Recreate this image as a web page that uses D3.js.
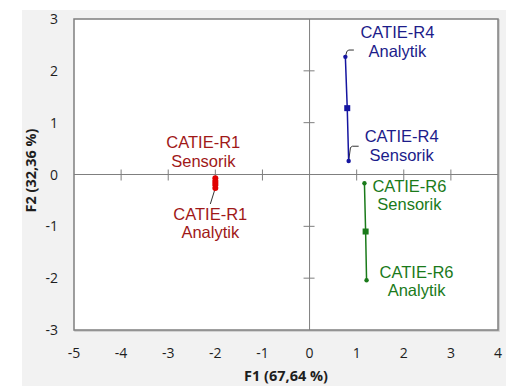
<!doctype html>
<html>
<head>
<meta charset="utf-8">
<style>
  body { margin: 0; background: white; }
  svg { display: block; }
  .tick-label { font-family: 'Open Sans', sans-serif; font-size: 14px; fill: #1e1e1e; }
  .axis-title { font-family: 'Open Sans', sans-serif; font-size: 14.5px; font-weight: bold; fill: #1e1e1e; }
  .pt-label { font-family: 'Liberation Sans', Arial, sans-serif; font-size: 16.5px; }
</style>
<script src="https://d3js.org/d3.v7.min.js"></script>
</head>
<body>
<svg width="513" height="386"></svg>
<script>
// values
var groups = ["CATIE-R1", "CATIE-R4", "CATIE-R6"];
var sensorikX = [-2.0, 0.83, 1.165];
var sensorikY = [-0.07, 0.26, -0.17];
var analytikX = [-2.0, 0.76, 1.21];
var analytikY = [-0.26, 2.27, -2.04];
var centerX = [-2.0, 0.80, 1.19];
var centerY = [-0.165, 1.28, -1.10];
var xTicks = [-5, -4, -3, -2, -1, 0, 1, 2, 3, 4];
var yTicks = [-3, -2, -1, 0, 1, 2, 3];

// styling / layout
var lineColor = ["#e00000", "#1515a0", "#1a7a1a"];
var textColor = ["#a01818", "#1c1c8a", "#1a7a1a"];
// label offsets (px) from the point: [dx, dy of first baseline]
var sensLabelOff = [[-12, -30], [53, -19], [45, 8.5]];
var anaLabelOff = [[-5, 32], [52, -18.5], [50, -2.5]];

var svg = d3.select("svg");
var margin = { left: 74, top: 19, right: 498, bottom: 330 };

svg.append("rect").attr("x", 22).attr("y", 10).attr("width", 484).attr("height", 376).attr("fill", "#f2f2f2");

var x = d3.scaleLinear().domain([-5, 4]).range([margin.left, margin.right]);
var y = d3.scaleLinear().domain([-3, 3]).range([margin.bottom, margin.top]);

// plot area
svg.append("rect").attr("x", margin.left + 1).attr("y", margin.top + 1)
  .attr("width", margin.right - margin.left).attr("height", margin.bottom - margin.top)
  .attr("fill", "none").attr("stroke", "#c8c8c8").attr("stroke-width", 1.5);
svg.append("rect").attr("x", margin.left).attr("y", margin.top)
  .attr("width", margin.right - margin.left).attr("height", margin.bottom - margin.top)
  .attr("fill", "white").attr("stroke", "#7f7f7f").attr("stroke-width", 1.5);

// zero lines
svg.append("line").attr("x1", margin.left).attr("x2", margin.right)
  .attr("y1", y(0)).attr("y2", y(0)).attr("stroke", "#7f7f7f").attr("stroke-width", 1);
svg.append("line").attr("x1", x(0)).attr("x2", x(0))
  .attr("y1", margin.top).attr("y2", margin.bottom).attr("stroke", "#7f7f7f").attr("stroke-width", 1);

// ticks crossing the zero lines
svg.selectAll(".xt").data(xTicks.filter(function (d) { return d !== 0 && d > -5 && d < 4; }))
  .enter().append("line")
  .attr("x1", function (d) { return x(d); }).attr("x2", function (d) { return x(d); })
  .attr("y1", y(0) - 5).attr("y2", y(0) + 6)
  .attr("stroke", "#7f7f7f");
svg.selectAll(".yt").data(yTicks.filter(function (d) { return d !== 0 && d > -3 && d < 3; }))
  .enter().append("line")
  .attr("x1", x(0) - 6).attr("x2", x(0) + 5)
  .attr("y1", function (d) { return y(d); }).attr("y2", function (d) { return y(d); })
  .attr("stroke", "#7f7f7f");

// tick labels
svg.selectAll(".xl").data(xTicks).enter().append("text")
  .attr("class", "tick-label")
  .attr("x", function (d) { return x(d); })
  .attr("y", 358)
  .attr("text-anchor", "middle")
  .text(function (d) { return d; });
svg.selectAll(".yl").data(yTicks).enter().append("text")
  .attr("class", "tick-label")
  .attr("x", 58)
  .attr("y", function (d) { return y(d) + 5; })
  .attr("text-anchor", "end")
  .text(function (d) { return d; });

// axis titles
svg.append("text").attr("class", "axis-title")
  .attr("x", (margin.left + margin.right) / 2).attr("y", 381)
  .attr("text-anchor", "middle").text("F1 (67,64 %)");
svg.append("text").attr("class", "axis-title")
  .attr("transform", "translate(36," + ((margin.top + margin.bottom) / 2 - 4) + ") rotate(-90)")
  .attr("text-anchor", "middle").text("F2 (32,36 %)");

// leader lines (px offsets from point)
var leaders = [
  { i: 0, which: "a", pts: [[0, 0], [-5, 16]] },
  { i: 1, which: "a", pts: [[0, 0], [1.5, -5.5], [3.5, -6.8], [8.5, -6.8]] },
  { i: 1, which: "s", pts: [[0, 0], [1.8, -13.5], [3.8, -14.8], [10, -14.8]] }
];
leaders.forEach(function (l) {
  var px = l.which === "a" ? x(analytikX[l.i]) : x(sensorikX[l.i]);
  var py = l.which === "a" ? y(analytikY[l.i]) : y(sensorikY[l.i]);
  svg.append("path")
    .attr("d", d3.line()(l.pts.map(function (p) { return [px + p[0], py + p[1]]; })))
    .attr("fill", "none").attr("stroke", "#333").attr("stroke-width", 1);
});

// series
groups.forEach(function (g, i) {
  var pts = [[analytikX[i], analytikY[i]], [centerX[i], centerY[i]], [sensorikX[i], sensorikY[i]]];
  svg.append("path")
    .attr("d", d3.line().x(function (d) { return x(d[0]); }).y(function (d) { return y(d[1]); })(pts))
    .attr("fill", "none").attr("stroke", lineColor[i]).attr("stroke-width", i === 0 ? 4 : 1.5);
  svg.append("circle").attr("cx", x(analytikX[i])).attr("cy", y(analytikY[i])).attr("r", i === 0 ? 3 : 2.2).attr("fill", lineColor[i]);
  svg.append("circle").attr("cx", x(sensorikX[i])).attr("cy", y(sensorikY[i])).attr("r", i === 0 ? 3 : 2.2).attr("fill", lineColor[i]);
  svg.append("rect").attr("x", x(centerX[i]) - 3).attr("y", y(centerY[i]) - 3)
    .attr("width", 6).attr("height", 6).attr("fill", lineColor[i]);

  [["Sensorik", sensorikX[i], sensorikY[i], sensLabelOff[i]],
   ["Analytik", analytikX[i], analytikY[i], anaLabelOff[i]]].forEach(function (s) {
    var t = svg.append("text").attr("class", "pt-label")
      .attr("fill", textColor[i]).attr("text-anchor", "middle")
      .attr("x", x(s[1]) + s[3][0]).attr("y", y(s[2]) + s[3][1]);
    t.append("tspan").attr("x", x(s[1]) + s[3][0]).text(g);
    t.append("tspan").attr("x", x(s[1]) + s[3][0]).attr("dy", 18.5).text(s[0]);
  });
});
</script>
</body>
</html>
